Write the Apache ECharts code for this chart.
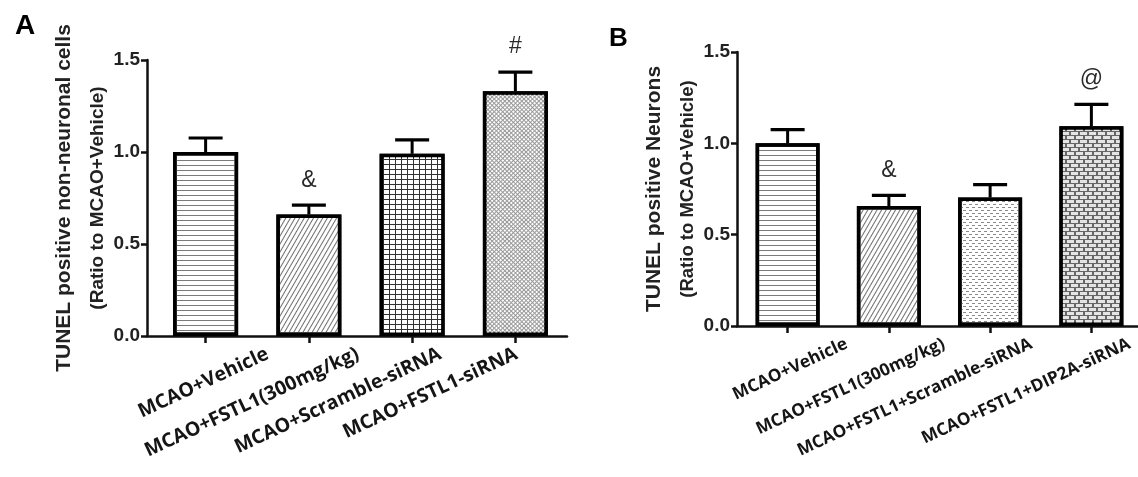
<!DOCTYPE html>
<html><head><meta charset="utf-8">
<script src="https://cdn.jsdelivr.net/npm/echarts@6/dist/echarts.min.js"></script>
<style>html,body{margin:0;padding:0;background:#fff}#c{width:1138px;height:477px}</style>
</head><body><div id="c"></div>
<script>
// ---------- data ----------
const categoriesA = ['MCAO+Vehicle', 'MCAO+FSTL1(300mg/kg)', 'MCAO+Scramble-siRNA', 'MCAO+FSTL1-siRNA'];
const meansA = [1.00, 0.66, 0.99, 1.33];
const semA = [0.076, 0.051, 0.076, 0.104];
const marksA = ['', '&', '', '#'];

const categoriesB = ['MCAO+Vehicle', 'MCAO+FSTL1(300mg/kg)', 'MCAO+FSTL1+Scramble-siRNA', 'MCAO+FSTL1+DIP2A-siRNA'];
const meansB = [1.00, 0.657, 0.703, 1.093];
const semB = [0.075, 0.058, 0.071, 0.12];
const marksB = ['', '&', '', '@'];

const yMin = 0, yMax = 1.5, yStep = 0.5;
const titleA1 = 'TUNEL positive non-neuronal cells';
const titleB1 = 'TUNEL positive Neurons';
const title2 = '(Ratio to MCAO+Vehicle)';

// ---------- style / layout ----------
const labelShiftA = [62, 49, 28, 1];
const labelShiftB = [59, 55, 41, 38];
const ROT = 25;
const rad = ROT * Math.PI / 180;
const AX = '#111';
const SANS = 'Liberation Sans';

function catData(cats, shifts) {
  return cats.map((c, i) => {
    const s = shifts[i];
    const v = s * Math.sin(rad), u = s * Math.cos(rad);
    return { value: c, textStyle: { padding: [v, -u, -v, 0] } };
  });
}

const hStripe = { symbol: 'rect', color: '#7a7a7a', dashArrayX: [1, 0], dashArrayY: [1, 4] };
const diag = { symbol: 'rect', color: '#6e6e6e', dashArrayX: [1, 0], dashArrayY: [1, 3], rotation: -Math.PI / 3 };
const gridPat = { symbol: 'rect', color: '#ffffff', dashArrayX: [5, 1], dashArrayY: [4, 1] };
const weave = { symbol: 'rect', color: '#ffffff', dashArrayX: [2, 1], dashArrayY: [2, 1], rotation: Math.PI / 4 };
const dots = { symbol: 'rect', color: '#8a8a8a', dashArrayX: [[3, 3], [0, 3, 3, 0]], dashArrayY: [1, 2] };
const brick = { symbol: 'rect', color: '#e4e4e4', dashArrayX: [[7, 2], [3, 2, 4, 0]], dashArrayY: [3, 1] };

const stylesA = [
  { color: '#fff', decal: hStripe },
  { color: '#fff', decal: diag },
  { color: '#333', decal: gridPat },
  { color: '#999', decal: weave }
];
const stylesB = [
  { color: '#fff', decal: hStripe },
  { color: '#fff', decal: diag },
  { color: '#fff', decal: dots },
  { color: '#666', decal: brick }
];

function barData(vals, styles) {
  return vals.map((v, i) => ({
    value: v,
    itemStyle: Object.assign({ borderColor: '#000', borderWidth: 3.5 }, styles[i])
  }));
}

function errRender(marks) {
  return function (params, api) {
    const x = api.value(0), v = api.value(1), e = api.value(2);
    const base = api.coord([x, v]);
    const top = api.coord([x, v + e]);
    const children = [
      { type: 'line', shape: { x1: base[0], y1: base[1], x2: top[0], y2: top[1] }, style: { stroke: '#000', lineWidth: 3 } },
      { type: 'line', shape: { x1: top[0] - 17, y1: top[1], x2: top[0] + 17, y2: top[1] }, style: { stroke: '#000', lineWidth: 3.2 } }
    ];
    const m = marks[params.dataIndex];
    if (m) {
      children.push({ type: 'text', x: top[0], y: top[1] - 25,
        style: { text: m, fill: '#2a2a2a', font: '23px "Liberation Sans"', align: 'center', verticalAlign: 'middle' } });
    }
    return { type: 'group', children };
  };
}

function yAxisCfg(gridIndex, name1, fs2) {
  return {
    type: 'value', gridIndex, min: yMin, max: yMax, interval: yStep,
    axisLine: { show: true, lineStyle: { color: AX, width: 2.5 } },
    axisTick: { show: true, length: 6, lineStyle: { color: AX, width: 2.5 } },
    axisLabel: { margin: 7, color: '#222', fontFamily: SANS, fontWeight: 'bold', fontSize: 19,
      formatter: v => v.toFixed(1) },
    splitLine: { show: false },
    name: '{a|' + name1 + '}\n{b|' + title2 + '}',
    nameLocation: 'middle', nameGap: 34, nameRotate: 90,
    nameTextStyle: {
      rich: {
        a: { fontFamily: SANS, fontWeight: 'bold', fontSize: 21, lineHeight: 38, color: '#222', verticalAlign: 'middle' },
        b: { fontFamily: SANS, fontWeight: 'bold', fontSize: fs2, lineHeight: 30, color: '#222', verticalAlign: 'middle' }
      }
    }
  };
}

function catAxis(gridIndex, cats, shifts, fs, showLine) {
  return {
    type: 'category', gridIndex, data: catData(cats, shifts),
    axisLine: { show: showLine, lineStyle: { color: AX, width: 2.5 } },
    axisTick: { show: true, alignWithLabel: true, length: 7, lineStyle: { color: AX, width: 2.5 } },
    axisLabel: { interval: 0, rotate: ROT, margin: 17,
      formatter: v => '{t|' + v + '}',
      rich: { t: { color: '#151515', fontFamily: 'Open Sans', fontWeight: 'bold', fontSize: fs, lineHeight: fs + 2 } } },
    splitLine: { show: false }
  };
}

const chart = echarts.init(document.getElementById('c'), null, { renderer: 'canvas' });
chart.setOption({
  animation: false,
  backgroundColor: '#fff',
  title: [
    { text: 'A', left: 10, top: 7, textStyle: { fontFamily: SANS, fontWeight: 'bold', fontSize: 28, color: '#000' } },
    { text: 'B', left: 604, top: 21, textStyle: { fontFamily: SANS, fontWeight: 'bold', fontSize: 26, color: '#000' } }
  ],
  grid: [
    { left: 147, top: 60, width: 420, height: 276, outerBoundsMode: 'none', containLabel: false },
    { left: 154, top: 60, width: 413, height: 276, outerBoundsMode: 'none', containLabel: false },
    { left: 737, top: 52, width: 405, height: 274, outerBoundsMode: 'none', containLabel: false }
  ],
  xAxis: [
    { type: 'value', gridIndex: 0, min: 0, max: 1, axisLine: { show: true, lineStyle: { color: AX, width: 2.5 } },
      axisTick: { show: false }, axisLabel: { show: false }, splitLine: { show: false } },
    catAxis(1, categoriesA, labelShiftA, 19.5, false),
    catAxis(2, categoriesB, labelShiftB, 17.2, true)
  ],
  yAxis: [
    yAxisCfg(0, titleA1, 19),
    { type: 'value', gridIndex: 1, min: yMin, max: yMax, show: false },
    yAxisCfg(2, titleB1, 18.5)
  ],
  series: [
    { type: 'bar', xAxisIndex: 1, yAxisIndex: 1, barWidth: 65, data: barData(meansA, stylesA), z: 2 },
    { type: 'custom', xAxisIndex: 1, yAxisIndex: 1, z: 3, renderItem: errRender(marksA),
      data: meansA.map((v, i) => [i, v, semA[i]]) },
    { type: 'bar', xAxisIndex: 2, yAxisIndex: 2, barWidth: 64, data: barData(meansB, stylesB), z: 2 },
    { type: 'custom', xAxisIndex: 2, yAxisIndex: 2, z: 3, renderItem: errRender(marksB),
      data: meansB.map((v, i) => [i, v, semB[i]]) }
  ]
});
</script>
</body></html>
